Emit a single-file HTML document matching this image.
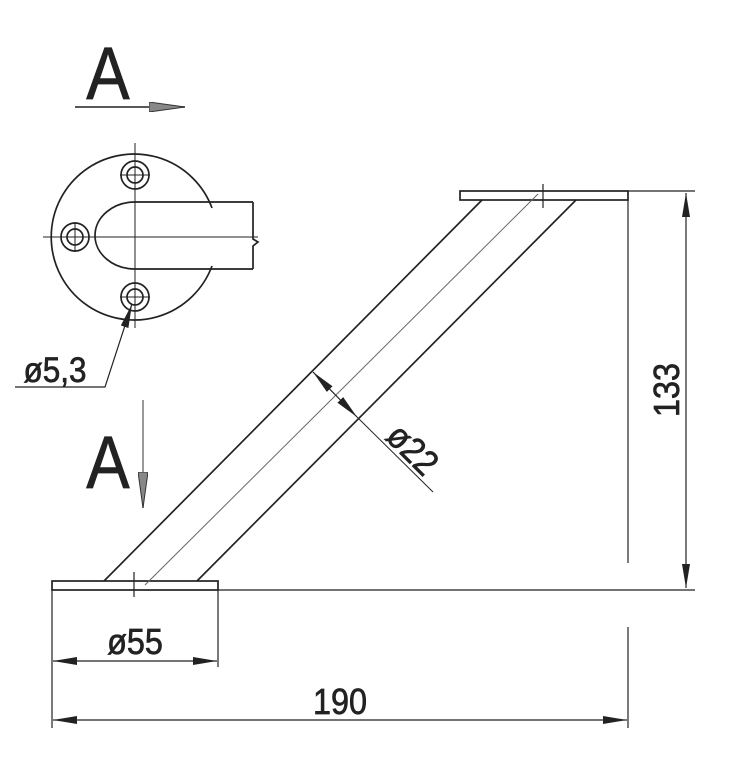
<!DOCTYPE html>
<html><head><meta charset="utf-8"><style>
html,body{margin:0;padding:0;background:#fff;}
svg{display:block;}
text{font-family:"Liberation Sans",sans-serif;fill:#222;stroke:#222;stroke-width:0.7;}
</style></head><body>
<svg width="742" height="768" viewBox="0 0 742 768" xmlns="http://www.w3.org/2000/svg">
<defs>
<marker id="arl" viewBox="0 0 24 8" refX="24" refY="4" markerWidth="24" markerHeight="8" markerUnits="userSpaceOnUse" orient="auto-start-reverse"><path d="M0,0 L24,4 L0,8 z" fill="#222"/></marker>
<marker id="ag" viewBox="0 0 36 10" refX="36" refY="5" markerWidth="36" markerHeight="10" markerUnits="userSpaceOnUse" orient="auto"><path d="M0,0 L36,5 L0,10 z" fill="#888" stroke="#333" stroke-width="1"/></marker>
</defs>
<g stroke="#222" fill="none" stroke-width="1.7">
<rect x="52" y="581" width="166" height="9"/>
<rect x="460" y="191" width="168" height="9"/>
<line x1="104" y1="581" x2="482" y2="200"/>
<line x1="197" y1="581" x2="576" y2="200"/>
<line x1="145" y1="585" x2="538" y2="194" stroke="#666" stroke-width="1"/>
<line x1="134" y1="572" x2="134" y2="597" stroke-width="1.2"/>
<line x1="543" y1="184" x2="543" y2="208" stroke-width="1.2"/>
<line x1="628" y1="191" x2="695" y2="191" stroke-width="1.2"/>
<line x1="218" y1="590" x2="695" y2="590" stroke-width="1.2"/>
<line x1="628" y1="200" x2="628" y2="563" stroke-width="1.2"/>
<line x1="686" y1="193" x2="686" y2="588" stroke-width="1.2" marker-start="url(#arl)" marker-end="url(#arl)"/>
<line x1="52" y1="590" x2="52" y2="728" stroke-width="1.2"/>
<line x1="628" y1="627" x2="628" y2="728" stroke-width="1.2"/>
<line x1="218" y1="590" x2="218" y2="667" stroke-width="1.2"/>
<line x1="53" y1="720" x2="627" y2="720" stroke-width="1.2" marker-start="url(#arl)" marker-end="url(#arl)"/>
<line x1="53" y1="661" x2="217" y2="661" stroke-width="1.2" marker-start="url(#arl)" marker-end="url(#arl)"/>
<line x1="313" y1="372" x2="357" y2="417" stroke-width="1.2" marker-start="url(#arl)" marker-end="url(#arl)"/>
<line x1="357" y1="417" x2="433" y2="492" stroke-width="1"/>
<path d="M212,208 A83,83 0 1 0 212,266" />
<path d="M253,202 L135,202 A40,33.5 0 0 0 135,269 L253,269"/>
<path d="M253,202 L253,239 L258,242 L253,246 L253,269"/>
<line x1="43" y1="237" x2="258" y2="237" stroke-width="1"/>
<line x1="135" y1="143" x2="135" y2="328" stroke-width="1"/>
<circle cx="135" cy="175" r="14"/><circle cx="135" cy="175" r="8"/>
<circle cx="75" cy="237" r="14"/><circle cx="75" cy="237" r="8"/>
<circle cx="135" cy="297" r="14"/><circle cx="135" cy="297" r="8"/>
<line x1="75" y1="222" x2="75" y2="252" stroke-width="1"/>
<line x1="120" y1="175" x2="150" y2="175" stroke-width="1"/>
<line x1="120" y1="297" x2="150" y2="297" stroke-width="1"/>
<polyline points="15,387 105,387 132,304" stroke-width="1.2" marker-end="url(#arl)"/>
<line x1="75" y1="107" x2="185" y2="107" stroke-width="1.5" marker-end="url(#ag)"/>
<line x1="143" y1="400" x2="143" y2="508" stroke="#777" stroke-width="1.5" marker-end="url(#ag)"/>
</g>
<g>
<text x="108" y="99" font-size="74" text-anchor="middle" transform="translate(108 0) scale(0.88 1) translate(-108 0)">A</text>
<text x="108" y="488" font-size="74" text-anchor="middle" transform="translate(108 0) scale(0.88 1) translate(-108 0)">A</text>
<text x="55" y="382" font-size="35" text-anchor="middle" transform="translate(55 0) scale(0.9 1) translate(-55 0)">ø5,3</text>
<text x="135" y="654" font-size="36" text-anchor="middle" transform="translate(135 0) scale(0.9 1) translate(-135 0)">ø55</text>
<text x="340" y="714" font-size="36" text-anchor="middle" transform="translate(340 0) scale(0.9 1) translate(-340 0)">190</text>
<text font-size="36" text-anchor="middle" transform="translate(679 390) rotate(-90) scale(0.9 1)">133</text>
<text font-size="36" text-anchor="middle" transform="translate(404 458) rotate(45) scale(0.9 1)">ø22</text>
</g>
</svg>
</body></html>
